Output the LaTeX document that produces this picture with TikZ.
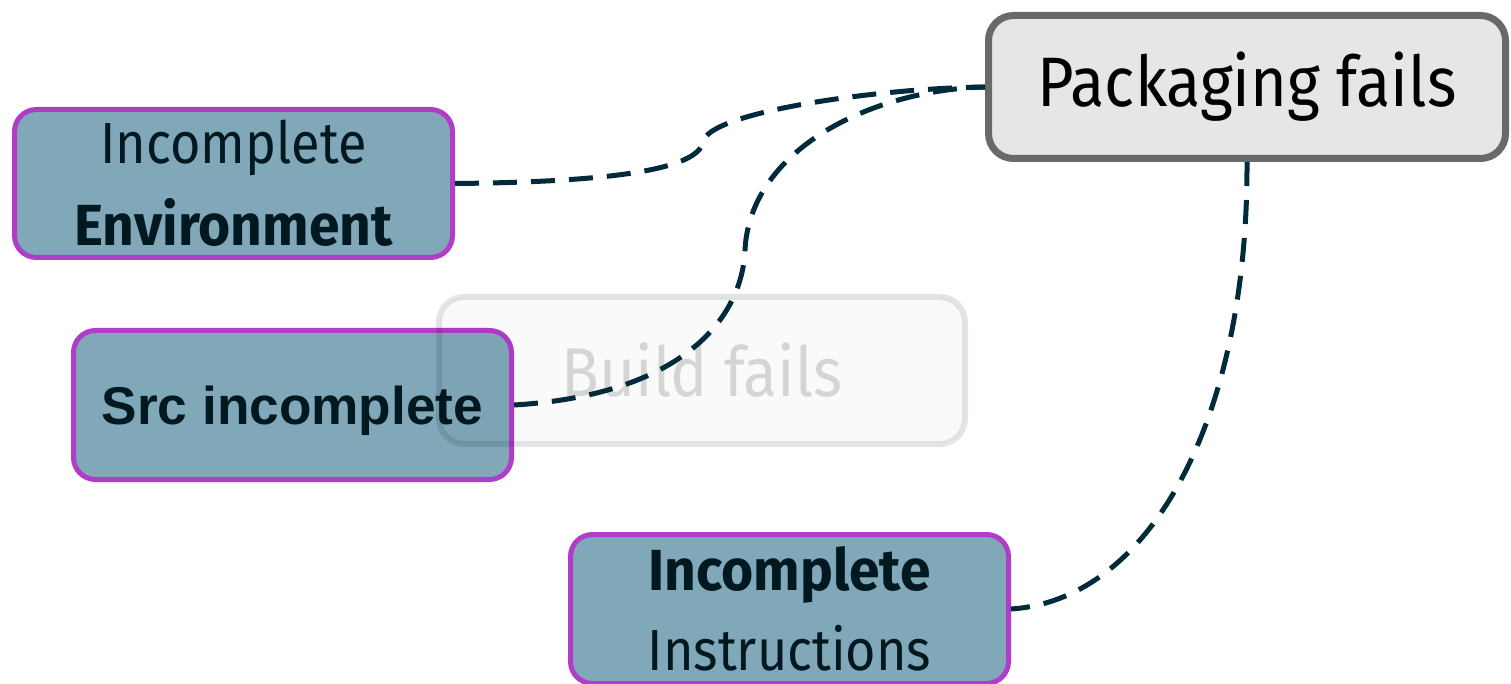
\documentclass[tikz,border=0pt]{standalone}
\usepackage{fontspec}
\newfontfamily\hum{Fira Sans}[FakeStretch=0.9]
\newfontfamily\humb{Fira Sans Bold}[FakeStretch=0.95]
\newfontfamily\ari{Liberation Sans}
\definecolor{teal}{HTML}{80A8B8}
\definecolor{purp}{HTML}{B03CC8}
\definecolor{ink}{HTML}{001820}
\definecolor{edge}{HTML}{002B3A}
\definecolor{pgray}{HTML}{E6E6E6}
\definecolor{pbord}{HTML}{696969}
\tikzset{
  cause/.style={draw=purp, line width=2.5pt, fill=teal, rounded corners=11pt, text=ink, align=center, inner sep=0pt},
  dep/.style={draw=edge, line width=2.5pt, dash pattern=on 12pt off 7pt},
}
\begin{document}
\begin{tikzpicture}[x=0.5pt,y=-0.5pt]
\useasboundingbox (0,0) rectangle (1511,684);
% nodes
\node[draw=pbord, line width=3.5pt, fill=pgray, rounded corners=12.5pt, minimum width=258.5pt, minimum height=71.5pt, inner sep=0pt, font=\hum\fontsize{35}{42}\selectfont, text=black] (pack) at (1247,87) {Packaging fails};
\node[cause, minimum width=219pt, minimum height=74pt, font=\hum\fontsize{29}{41}\selectfont] (env) at (233.5,183.5) {Incomplete\\\humb Environment};
\node[cause, minimum width=219pt, minimum height=74.5pt, text depth=0pt, font=\ari\bfseries\fontsize{26.6}{32}\selectfont] (src) at (292.5,405) {Src incomplete};
\node[cause, minimum width=219pt, minimum height=74.5pt, font=\hum\fontsize{29}{40}\selectfont] (ins) at (789.5,609) {\humb Incomplete\\Instructions};
\node[draw=black, draw opacity=0.1, fill=black, fill opacity=0.02, text opacity=0.15, line width=3pt, rounded corners=12.5pt, minimum width=263pt, minimum height=73.5pt, inner sep=0pt, font=\hum\fontsize{34.5}{38}\selectfont] (build) at (702,370.5) {Build fails};
% connectors
\draw[dep] (env.east) .. controls (620,182) and (698,168) .. (703,142) .. controls (708,112) and (880,88) .. (pack.west);
\draw[dep] (src.east) .. controls (680,395) and (742,320) .. (745,250) .. controls (750,150) and (870,90) .. (pack.west);
\draw[dep] (pack.south) .. controls (1248,420) and (1150,600) .. (ins.east);
\end{tikzpicture}
\end{document}
